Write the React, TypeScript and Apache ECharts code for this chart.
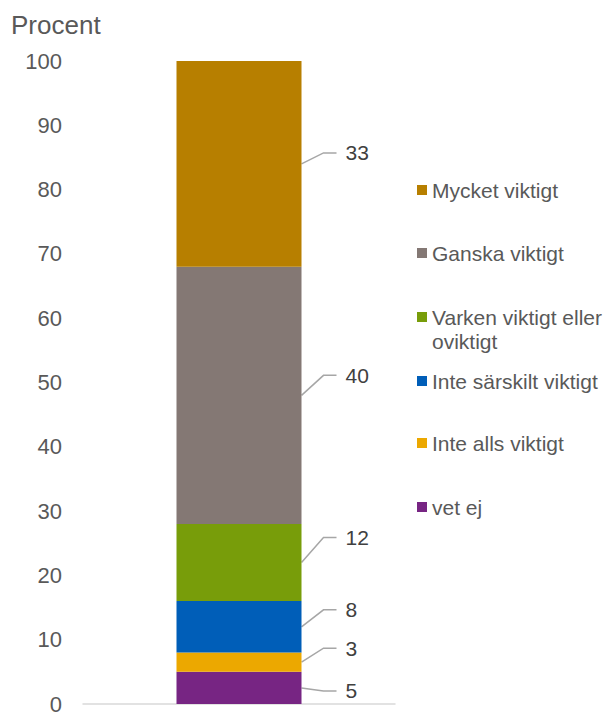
import React, { useEffect, useRef } from "react";
import * as echarts from "echarts";

const categories = [""];
const seriesNames = [
  "vet ej",
  "Inte alls viktigt",
  "Inte särskilt viktigt",
  "Varken viktigt eller oviktigt",
  "Ganska viktigt",
  "Mycket viktigt",
];
const seriesValues = [5, 3, 8, 12, 40, 33];
const seriesColors = ["#772583", "#ECA800", "#005EB8", "#789D0A", "#847874", "#B77F00"];
const labelDy = [3, -14, -17, -25, -20, -11];
const yTicks = { min: 0, max: 100, interval: 10 };
const legendCenters = [507, 443, 381, 317, 253, 190];

export default function App() {
  const ref = useRef<HTMLDivElement>(null);
  useEffect(() => {
    if (!ref.current) return;
    const chart = echarts.init(ref.current, null, { renderer: "svg" });
    const textColor = "#595959";
    const font = "Liberation Sans, Arial, sans-serif";
    const barWidth = 125;
    const series = seriesNames.map((name, i) => ({
      name,
      type: "bar",
      stack: "total",
      barWidth,
      data: [seriesValues[i]],
      itemStyle: { color: seriesColors[i] },
      label: {
        show: true,
        position: "right",
        distance: 0,
        fontSize: 21,
        color: "#404040",
        fontFamily: font,
      },
      labelLayout: { dx: 44, dy: labelDy[i] },
    }));
    const legends = seriesNames.map((name, i) => {
      const isLong = name === "Varken viktigt eller oviktigt";
      return {
        show: true,
        orient: "vertical",
        left: 417,
        top: legendCenters[i] - (isLong ? 36 : 12),
        padding: 0,
        itemWidth: 10,
        itemHeight: 10,
        icon: "rect",
        data: [name],
        formatter: (n: string) =>
          n === "Varken viktigt eller oviktigt" ? "\nVarken viktigt eller\noviktigt" : n,
        textStyle: {
          fontSize: 21,
          lineHeight: 24,
          color: textColor,
          fontFamily: font,
        },
      };
    });
    chart.setOption({
      animation: false,
      textStyle: { fontFamily: font },
      title: {
        text: "Procent",
        left: 11,
        top: 12,
        padding: 0,
        textStyle: { fontSize: 26, fontWeight: "normal", color: textColor },
      },
      legend: legends,
      grid: { left: 83, right: 213, top: 61, bottom: 8, containLabel: false },
      xAxis: {
        type: "category",
        data: categories,
        axisLine: { lineStyle: { color: "#D9D9D9", width: 1.5 } },
        axisTick: { show: false },
        axisLabel: { show: false },
      },
      yAxis: {
        type: "value",
        min: yTicks.min,
        max: yTicks.max,
        interval: yTicks.interval,
        axisLine: { show: false },
        axisTick: { show: false },
        splitLine: { show: false },
        axisLabel: { fontSize: 22, color: textColor, margin: 21 },
      },
      series,
    });

    // leader lines from bar segment mid-points to the labels
    let base = 0;
    const graphics = seriesValues.map((v, i) => {
      const top = Math.min(base + v, yTicks.max);
      const mid = (base + top) / 2;
      base += v;
      const p = chart.convertToPixel({ gridIndex: 0 }, [0, mid]) as number[];
      const x0 = p[0] + barWidth / 2;
      const y0 = p[1];
      const y1 = y0 + labelDy[i];
      return {
        type: "polyline",
        silent: true,
        shape: { points: [[x0, y0], [x0 + 22, y1], [x0 + 35, y1]] },
        style: { stroke: "#A6A6A6", lineWidth: 1.5, fill: "none" },
      };
    });
    chart.setOption({ graphic: graphics });
    return () => chart.dispose();
  }, []);
  return (
    <div
      ref={ref}
      style={{ position: "absolute", left: 0, top: 0, width: 608, height: 715 }}
    />
  );
}
